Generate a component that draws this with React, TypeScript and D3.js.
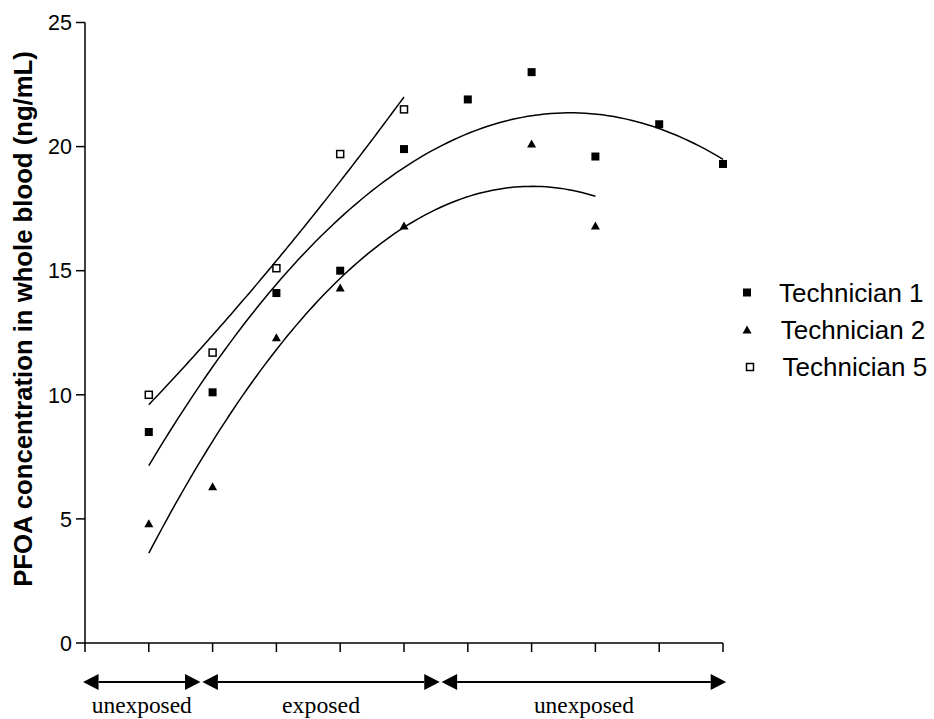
import React from "react";
import * as d3 from "d3";

const xTicks = [0, 1, 2, 3, 4, 5, 6, 7, 8, 9, 10];
const yTicks = [0, 5, 10, 15, 20, 25];

const t1X = [1, 2, 3, 4, 5, 6, 7, 8, 9, 10];
const t1Y = [8.5, 10.1, 14.1, 15.0, 19.9, 21.9, 23.0, 19.6, 20.9, 19.3];
const t2X = [1, 2, 3, 4, 5, 7, 8];
const t2Y = [4.8, 6.3, 12.3, 14.3, 16.8, 20.1, 16.8];
const t5X = [1, 2, 3, 4, 5];
const t5Y = [10.0, 11.7, 15.1, 19.7, 21.5];

const legendLabels = ["Technician 1", "Technician 2", "Technician 5"];
const periodLabels = ["unexposed", "exposed", "unexposed"];
const periodFrom = [-0.03, 1.84, 5.59];
const periodTo = [1.81, 5.56, 10.05];

// layout (not data)
const periodTextWidth = [100, 78, 100];

function quadFit(xs: number[], ys: number[]) {
  let s0 = 0, s1 = 0, s2 = 0, s3 = 0, s4 = 0, t0 = 0, t1 = 0, t2 = 0;
  xs.forEach((x, i) => {
    const y = ys[i];
    s0 += 1; s1 += x; s2 += x * x; s3 += x * x * x; s4 += x * x * x * x;
    t0 += y; t1 += x * y; t2 += x * x * y;
  });
  const M = [
    [s0, s1, s2, t0],
    [s1, s2, s3, t1],
    [s2, s3, s4, t2],
  ];
  for (let i = 0; i < 3; i++) {
    for (let k = i + 1; k < 3; k++) {
      const f = M[k][i] / M[i][i];
      for (let j = i; j < 4; j++) M[k][j] -= f * M[i][j];
    }
  }
  const c = M[2][3] / M[2][2];
  const b = (M[1][3] - M[1][2] * c) / M[1][1];
  const a = (M[0][3] - M[0][1] * b - M[0][2] * c) / M[0][0];
  return (x: number) => a + b * x + c * x * x;
}

export default function App() {
  const W = 934, H = 719;
  const x = d3.scaleLinear().domain([0, 10]).range([85, 723]);
  const y = d3.scaleLinear().domain([0, 25]).range([643, 22.5]);
  const sans = "'Liberation Sans', Arial, Helvetica, sans-serif";
  const serif = "'Liberation Serif', 'Times New Roman', serif";

  const curve = (xs: number[], ys: number[]) => {
    const f = quadFit(xs, ys);
    const lo = d3.min(xs)!, hi = d3.max(xs)!;
    const pts = d3.range(0, 101).map((i) => lo + ((hi - lo) * i) / 100);
    return d3.line<number>().x((v) => x(v)).y((v) => y(f(v)))(pts) || "";
  };

  const sq = (cx: number, cy: number, key: string, open = false) =>
    open ? (
      <rect key={key} x={cx - 3.5} y={cy - 3.5} width={7} height={7} fill="#fff" stroke="#000" strokeWidth={1.5} />
    ) : (
      <rect key={key} x={cx - 4} y={cy - 4} width={8} height={8} fill="#000" />
    );
  const tri = (cx: number, cy: number, key: string) => (
    <path key={key} d={`M${cx},${cy - 4.5}L${cx + 4.5},${cy + 3.5}L${cx - 4.5},${cy + 3.5}Z`} fill="#000" />
  );

  const arrowY = 682;
  const ah = 15.5, aw = 8;

  return (
    <svg width={W} height={H} style={{ position: "absolute", left: 0, top: 0, background: "#fff" }}>
      <rect width={W} height={H} fill="#fff" />
      {/* y axis */}
      <line x1={85} x2={85} y1={y(25)} y2={y(0)} stroke="#000" strokeWidth={1.5} />
      {yTicks.map((t) => (
        <g key={"yt" + t}>
          <line x1={76} x2={85} y1={y(t)} y2={y(t)} stroke="#000" strokeWidth={1.5} />
          <text x={72} y={y(t)} dy="0.36em" textAnchor="end" fontFamily={sans} fontSize={21.5}>
            {t}
          </text>
        </g>
      ))}
      {/* x axis */}
      <line x1={x(0)} x2={x(10)} y1={643} y2={643} stroke="#000" strokeWidth={1.5} />
      {xTicks.map((t) => (
        <line key={"xt" + t} x1={x(t)} x2={x(t)} y1={643} y2={652} stroke="#000" strokeWidth={1.5} />
      ))}
      {/* y label */}
      <text
        transform={`translate(32,319) rotate(-90)`}
        textAnchor="middle"
        fontFamily={sans}
        fontWeight="bold"
        fontSize={25.7}
      >
        PFOA concentration in whole blood (ng/mL)
      </text>
      {/* fit curves */}
      <path d={curve(t5X, t5Y)} fill="none" stroke="#000" strokeWidth={1.5} />
      <path d={curve(t1X, t1Y)} fill="none" stroke="#000" strokeWidth={1.5} />
      <path d={curve(t2X, t2Y)} fill="none" stroke="#000" strokeWidth={1.5} />
      {/* points */}
      {t1X.map((v, i) => sq(x(v), y(t1Y[i]), "p1" + i))}
      {t2X.map((v, i) => tri(x(v), y(t2Y[i]), "p2" + i))}
      {t5X.map((v, i) => sq(x(v), y(t5Y[i]), "p5" + i, true))}
      {/* legend */}
      {sq(747, 292.5, "l1")}
      {tri(747, 330, "l2")}
      {sq(750, 367, "l3", true)}
      {legendLabels.map((l, i) => (
        <text key={l} x={779 + i * 1.8} y={302 + i * 37} fontFamily={sans} fontSize={26}>
          {l}
        </text>
      ))}
      {/* period arrows */}
      {periodLabels.map((label, i) => {
        const a = x(periodFrom[i]), b = x(periodTo[i]);
        return (
          <g key={"per" + i}>
            <line x1={a + ah} x2={b - ah} y1={arrowY} y2={arrowY} stroke="#000" strokeWidth={2} />
            <path d={`M${a},${arrowY}L${a + ah},${arrowY - aw}L${a + ah},${arrowY + aw}Z`} fill="#000" />
            <path d={`M${b},${arrowY}L${b - ah},${arrowY - aw}L${b - ah},${arrowY + aw}Z`} fill="#000" />
            <text
              x={(a + b) / 2}
              y={713}
              textAnchor="middle"
              fontFamily={serif}
              fontSize={24}
              textLength={periodTextWidth[i]}
              lengthAdjust="spacingAndGlyphs"
            >
              {label}
            </text>
          </g>
        );
      })}
    </svg>
  );
}
